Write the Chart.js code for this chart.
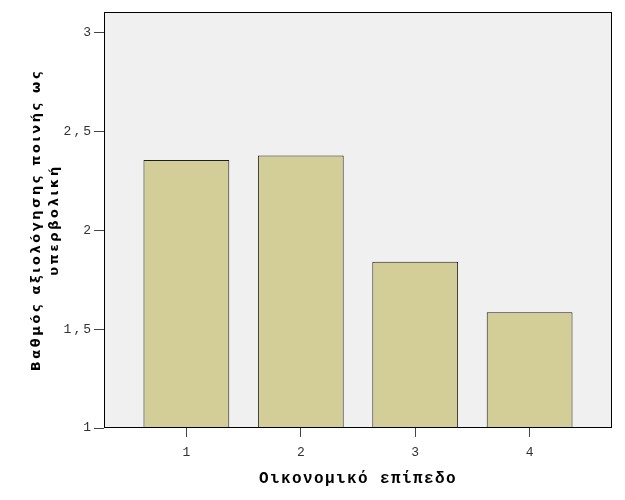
<!DOCTYPE html>
<html>
<head>
<meta charset="utf-8">
<script src="https://cdn.jsdelivr.net/npm/chart.js@4"></script>
<style>
  html, body { margin: 0; padding: 0; background: #ffffff; }
  #wrap { width: 625px; height: 500px; }
</style>
</head>
<body>
<div id="wrap"><canvas id="c" width="625" height="500"></canvas></div>
<script>
const categories = [1, 2, 3, 4];
const meanValues = [2.357, 2.379, 1.842, 1.586];
const yTickValues = [1, 1.5, 2, 2.5, 3];
const yTickLabels = ['1', '1,5', '2', '2,5', '3'];
const xTitle = 'Οικονομικό επίπεδο';
const yTitle = ['Βαθμός αξιολόγησης ποινής ως', 'υπερβολική'];

const spacingPlugin = {
  id: 'spacing',
  beforeDraw(chart) {
    const ctx = chart.ctx;
    const ca = chart.chartArea;
    ctx.save();
    ctx.fillStyle = '#f0f0f0';
    ctx.fillRect(ca.left, ca.top, ca.right - ca.left, ca.bottom - ca.top);
    ctx.restore();
    Object.values(chart.scales).forEach(s => {
      if (s._wrapped) return;
      s._wrapped = true;
      const origTitle = s.drawTitle;
      const origLabels = s.drawLabels;
      s.drawTitle = function() {
        this.ctx.save();
        this.ctx.letterSpacing = this.axis === 'y' ? '2.6px' : '1.4px';
        origTitle.apply(this, arguments);
        this.ctx.restore();
      };
      s.drawLabels = function() {
        this.ctx.save();
        this.ctx.letterSpacing = '2px';
        if (this.axis === 'x') this.ctx.translate(1, 0);
        origLabels.apply(this, arguments);
        this.ctx.restore();
      };
    });
  },
  afterDatasetsDraw(chart) {
    const ctx = chart.ctx;
    const ca = chart.chartArea;
    ctx.save();
    ctx.strokeStyle = '#000000';
    ctx.lineWidth = 1;
    ctx.strokeRect(Math.round(ca.left) + 0.5, Math.round(ca.top) + 0.5,
      Math.round(ca.right - ca.left) - 1, Math.round(ca.bottom - ca.top) - 1);
    ctx.restore();
  }
};

new Chart(document.getElementById('c'), {
  type: 'bar',
  data: {
    datasets: [{
      data: categories.map((c, i) => ({ x: c, y: meanValues[i] })),
      backgroundColor: '#d3ce97',
      borderColor: '#1e1e1e',
      borderWidth: 1,
      borderSkipped: false,
      categoryPercentage: 0.75,
      barPercentage: 1.0
    }]
  },
  plugins: [spacingPlugin],
  options: {
    responsive: false,
    animation: false,
    devicePixelRatio: 1,
    layout: { padding: { top: 12, right: 13, left: 0, bottom: 0 } },
    plugins: { legend: { display: false }, tooltip: { enabled: false } },
    scales: {
      x: {
        type: 'linear',
        offset: false,
        min: 0.28,
        max: 4.72,
        afterBuildTicks: s => { s.ticks = categories.map(v => ({ value: v })); },
        afterFit: s => { s.height = 72; },
        grid: { offset: false, drawOnChartArea: false, drawTicks: true, tickLength: 9, tickColor: '#444444' },
        border: { display: false },
        ticks: {
          font: { family: 'Liberation Mono', size: 13 },
          color: '#333333',
          padding: 8,
          maxRotation: 0,
          callback: v => String(v)
        },
        title: {
          display: true,
          text: xTitle,
          font: { family: 'Liberation Mono', size: 16, weight: 'bold', lineHeight: 1.2 },
          color: '#000000',
          padding: { top: 0, bottom: 11 }
        }
      },
      y: {
        min: 1,
        max: 3.106,
        afterBuildTicks: s => { s.ticks = yTickValues.map(v => ({ value: v })); },
        afterFit: s => { s.width = 104; },
        grid: { drawOnChartArea: false, drawTicks: true, tickLength: 10, tickColor: '#444444' },
        border: { display: false },
        ticks: {
          font: { family: 'Liberation Mono', size: 13 },
          color: '#333333',
          padding: 1,
          callback: v => yTickLabels[yTickValues.indexOf(v)]
        },
        title: {
          display: true,
          text: yTitle,
          font: { family: 'DejaVu Sans', size: 13, weight: 'bold', lineHeight: 1.35 },
          color: '#000000',
          padding: { top: 28, bottom: 0 }
        }
      }
    }
  }
});
</script>
</body>
</html>
